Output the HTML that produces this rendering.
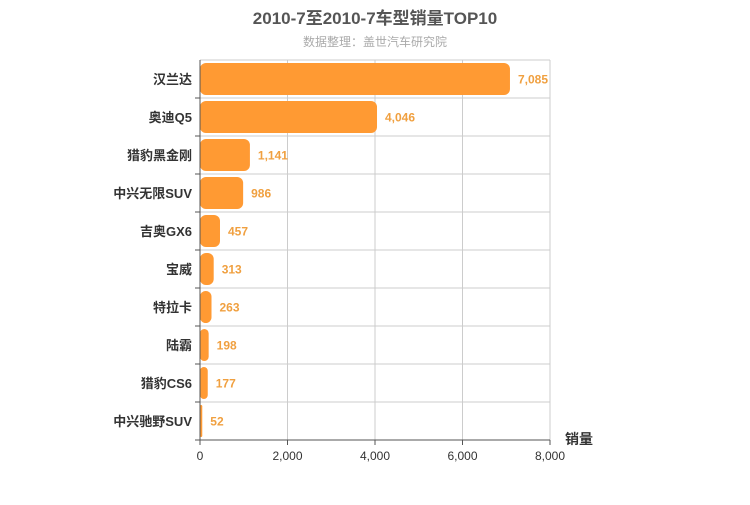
<!DOCTYPE html>
<html><head><meta charset="utf-8"><style>
body{margin:0;background:#fff;font-family:"Liberation Sans","Noto Sans CJK SC",sans-serif}
</style></head><body>
<svg width="750" height="500" xmlns="http://www.w3.org/2000/svg" font-family="Liberation Sans, Noto Sans CJK SC, sans-serif">
<text x="375" y="24" text-anchor="middle" font-size="17" font-weight="bold" fill="#555">2010-7至2010-7车型销量TOP10</text>
<text x="375" y="46" text-anchor="middle" font-size="12" fill="#aaa">数据整理：盖世汽车研究院</text>
<g id="grid"></g><g id="bars"></g><g id="axes"></g>
<text x="565" y="444" font-size="14" font-weight="bold" fill="#333">销量</text>
</svg>
<script>
const categories=["汉兰达","奥迪Q5","猎豹黑金刚","中兴无限SUV","吉奥GX6","宝威","特拉卡","陆霸","猎豹CS6","中兴驰野SUV"];
const values=[7085,4046,1141,986,457,313,263,198,177,52];
const xTicks=[0,2000,4000,6000,8000];
const NS="http://www.w3.org/2000/svg";
const x0=200,x1=550,yTop=60,yBot=440,xMax=8000;
const xs=v=>x0+(x1-x0)*v/xMax;
const rowH=(yBot-yTop)/categories.length;
function mk(t,a,p){const e=document.createElementNS(NS,t);for(const k in a)e.setAttribute(k,a[k]);p.appendChild(e);return e;}
const grid=document.getElementById('grid'),bars=document.getElementById('bars'),axes=document.getElementById('axes');
xTicks.forEach(t=>{
 const l=mk('line',{x1:xs(t),x2:xs(t),y1:yTop,y2:yBot,stroke:'#ccc'},grid);
 
 
 const tk=mk('line',{x1:xs(t),x2:xs(t),y1:yBot,y2:yBot+5,stroke:'#555'},axes);
 
 
 const tx=mk('text',{x:xs(t),y:yBot+20,'text-anchor':'middle','font-size':12,fill:'#333'},axes);
 tx.textContent=t.toLocaleString('en-US');
 
 
});
categories.forEach((c,i)=>{
 const y=yTop+i*rowH;
 const g=mk('line',{x1:x0,x2:x1,y1:y,y2:y,stroke:'#ccc'},grid);
 
 
 const tk=mk('line',{x1:x0-5,x2:x0,y1:y+rowH,y2:y+rowH,stroke:'#555'},axes);
 
 
 const w=Math.max(xs(values[i])-x0,2);
 const b=mk('rect',{x:x0,y:y+3,width:w,height:rowH-6,rx:Math.min(6,w/2),fill:'#ff9a33'},bars);
 
 
 const v=mk('text',{x:x0+w+8,y:y+rowH/2+4.5,'font-size':12,'font-weight':'bold',fill:'#f0a040'},bars);
 v.textContent=values[i].toLocaleString('en-US');
 
 
 const lb=mk('text',{x:x0-8,y:y+rowH/2+5,'text-anchor':'end','font-size':13,'font-weight':'bold',fill:'#333'},axes);
 lb.textContent=c;
 
 
});
const ya=mk('line',{x1:x0,x2:x0,y1:yTop,y2:yBot,stroke:'#555'},axes);


const xa=mk('line',{x1:x0,x2:x1,y1:yBot,y2:yBot,stroke:'#555'},axes);


</script>
</body></html>
